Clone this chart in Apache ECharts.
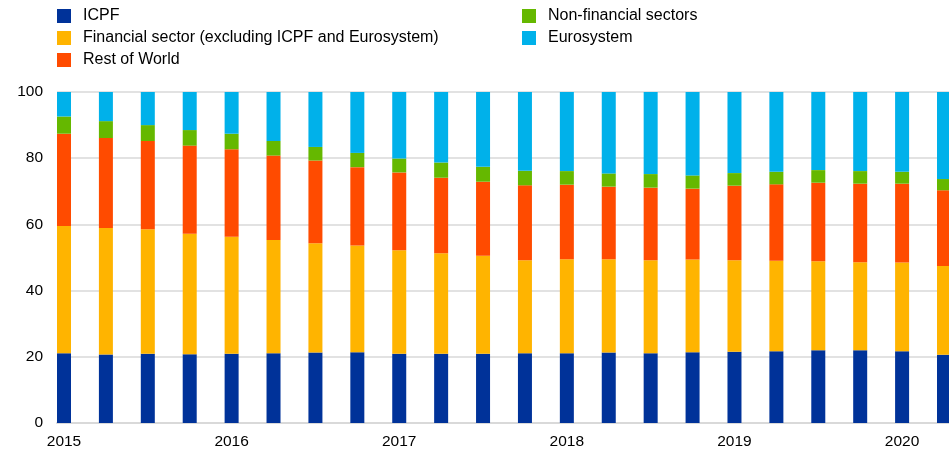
<!DOCTYPE html>
<html>
<head>
<meta charset="utf-8">
<script src="https://cdn.jsdelivr.net/npm/echarts@6.0.0/dist/echarts.min.js"></script>
<style>
    html, body { margin: 0; padding: 0; background: #fff; }
    #chart { width: 949px; height: 450px; }
</style>
</head>
<body>
<div id="chart"></div>
<script>
// quarters 2015Q1 .. 2020Q2
const quarters = ['2015Q1', '2015Q2', '2015Q3', '2015Q4', '2016Q1', '2016Q2', '2016Q3', '2016Q4',
    '2017Q1', '2017Q2', '2017Q3', '2017Q4', '2018Q1', '2018Q2', '2018Q3', '2018Q4',
    '2019Q1', '2019Q2', '2019Q3', '2019Q4', '2020Q1', '2020Q2']
const yearLabels = ['2015', '2016', '2017', '2018', '2019', '2020']

const icpf = [21.1, 20.7, 20.9, 20.8, 20.9, 21.1, 21.3, 21.4, 20.9, 20.9, 20.9, 21.1, 21.1, 21.3, 21.1, 21.4, 21.5, 21.7, 22.0, 22.0, 21.7, 20.6]
const financial = [38.4, 38.2, 37.6, 36.4, 35.4, 34.2, 33.0, 32.2, 31.3, 30.4, 29.6, 28.1, 28.4, 28.2, 28.1, 28.0, 27.7, 27.3, 26.9, 26.6, 26.8, 26.8]
const restOfWorld = [27.9, 27.2, 26.7, 26.6, 26.4, 25.5, 25.0, 23.7, 23.5, 22.8, 22.4, 22.6, 22.5, 21.9, 21.9, 21.4, 22.5, 23.1, 23.7, 23.7, 23.8, 22.9]
const nonFinancial = [5.2, 5.1, 4.8, 4.7, 4.7, 4.4, 4.1, 4.3, 4.2, 4.6, 4.5, 4.4, 4.1, 4.0, 4.1, 4.0, 3.8, 3.8, 3.8, 3.8, 3.6, 3.4]
const eurosystem = [7.4, 8.8, 10.0, 11.5, 12.6, 14.8, 16.6, 18.4, 20.1, 21.3, 22.6, 23.8, 23.9, 24.6, 24.8, 25.2, 24.5, 24.1, 23.6, 23.9, 24.1, 26.3]

const seriesDefs = [
    { name: 'ICPF', data: icpf, color: '#003299' },
    { name: 'Financial sector (excluding ICPF and Eurosystem)', data: financial, color: '#ffb400' },
    { name: 'Rest of World', data: restOfWorld, color: '#ff4b00' },
    { name: 'Non-financial sectors', data: nonFinancial, color: '#65b800' },
    { name: 'Eurosystem', data: eurosystem, color: '#00b1ea' }
]

const fontFamily = 'Liberation Sans, Arial, sans-serif'
const chart = echarts.init(document.getElementById('chart'))

const legendBase = {
    orient: 'vertical',
    top: 3,
    itemWidth: 14,
    itemHeight: 14,
    itemGap: 6,
    icon: 'rect',
    textStyle: {
        fontFamily: fontFamily,
        fontSize: 16,
        color: '#000',
        lineHeight: 15,
        padding: [0, 0, 0, 7]
    }
}

const option = {
    animation: false,
    textStyle: { fontFamily: fontFamily },
    legend: [
        Object.assign({}, legendBase, { left: 52, data: seriesDefs.slice(0, 3).map(s => s.name) }),
        Object.assign({}, legendBase, { left: 517, data: seriesDefs.slice(3).map(s => s.name) })
    ],
    // grid 0: gridlines, y labels and axis line (full width)
    // grid 1: the bars, inset by half a bar so the first bar sits on the left edge
    grid: [
        { left: 57, right: 0, top: 92, bottom: 27 },
        { left: 64, right: 5, top: 92, bottom: 27 }
    ],
    xAxis: [
        {
            gridIndex: 0,
            type: 'value',
            min: 0,
            max: 1,
            splitLine: { show: false },
            axisTick: { show: false },
            axisLabel: { show: false },
            axisLine: { show: true, onZero: false, lineStyle: { color: '#d9d9d9', width: 2 } }
        },
        {
            gridIndex: 1,
            type: 'category',
            data: quarters,
            boundaryGap: false,
            axisLine: { show: false },
            axisTick: { show: false },
            splitLine: { show: false },
            axisLabel: {
                interval: 3,
                formatter: (v, i) => yearLabels[Math.floor(i / 4)],
                color: '#000',
                fontSize: 15.5,
                margin: 11
            }
        }
    ],
    yAxis: [
        {
            gridIndex: 0,
            type: 'value',
            min: 0,
            max: 100,
            interval: 20,
            axisLine: { show: false },
            axisTick: { show: false },
            splitLine: { lineStyle: { color: '#d9d9d9', width: 1.5 } },
            axisLabel: { color: '#000', fontSize: 15.5, margin: 14 }
        },
        {
            gridIndex: 1,
            type: 'value',
            min: 0,
            max: 100,
            interval: 20,
            show: false
        }
    ],
    series: seriesDefs.map(s => ({
        type: 'bar',
        name: s.name,
        stack: 'total',
        xAxisIndex: 1,
        yAxisIndex: 1,
        barWidth: 14,
        itemStyle: { color: s.color },
        data: s.data
    }))
}

chart.setOption(option)
</script>
</body>
</html>
